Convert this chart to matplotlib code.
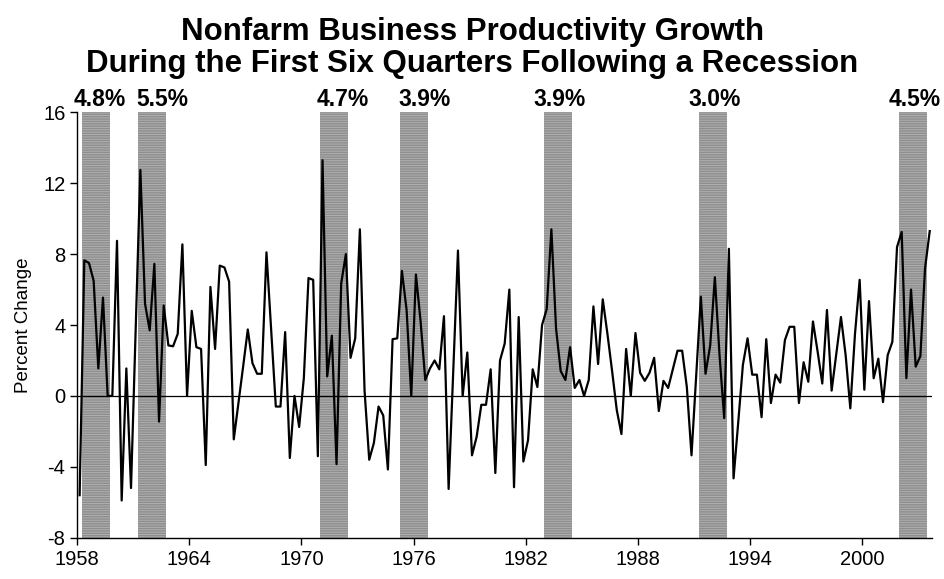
import matplotlib
matplotlib.use('Agg')
import matplotlib.pyplot as plt
import numpy as np

# quarterly nonfarm business productivity growth, 1958Q1 - 2003Q3 (annual rate, %)
growth = [
    -5.6, 7.65, 7.5, 6.5, 1.55, 5.55, 0.0, 0.0,          # 1958-59
    8.75, -5.9, 1.55, -5.2, 3.7, 12.75, 5.2, 3.7,        # 1960-61
    7.45, -1.45, 5.1, 2.85, 2.8, 3.5, 8.55, 0.0,         # 1962-63
    4.8, 2.75, 2.65, -3.9, 6.15, 2.65, 7.35, 7.25,       # 1964-65
    6.45, -2.45, -0.4, 1.65, 3.75, 1.85, 1.25, 1.25,     # 1966-67
    8.1, 3.75, -0.6, -0.6, 3.6, -3.5, 0.0, -1.75,        # 1968-69
    1.0, 6.65, 6.55, -3.4, 13.3, 1.1, 3.4, -3.85,        # 1970-71
    6.35, 8.0, 2.15, 3.25, 9.4, 0.3, -3.6, -2.65,        # 1972-73
    -0.6, -1.1, -4.15, 3.2, 3.25, 7.05, 4.85, 0.0,       # 1974-75
    6.85, 4.2, 0.9, 1.55, 2.0, 1.5, 4.5, -5.25,          # 1976-77
    1.5, 8.2, 0.0, 2.45, -3.35, -2.3, -0.5, -0.5,        # 1978-79
    1.5, -4.35, 2.0, 2.95, 6.0, -5.15, 4.45, -3.7,       # 1980-81
    -2.5, 1.5, 0.5, 4.0, 4.9, 9.4, 3.8, 1.4,             # 1982-83
    0.9, 2.75, 0.45, 0.9, 0.0, 0.9, 5.05, 1.8,           # 1984-85
    5.45, 3.5, 1.4, -0.8, -2.15, 2.65, 0.0, 3.55,        # 1986-87
    1.3, 0.85, 1.3, 2.15, -0.85, 0.85, 0.45, 1.5,        # 1988-89
    2.55, 2.55, 0.5, -3.35, 1.1, 5.6, 1.25, 2.85,        # 1990-91
    6.7, 2.3, -1.25, 8.3, -4.65, -1.5, 1.75, 3.25,       # 1992-93
    1.2, 1.2, -1.2, 3.2, -0.4, 1.2, 0.75, 3.15,          # 1994-95
    3.9, 3.9, -0.4, 1.9, 0.8, 4.2, 2.5, 0.7,             # 1996-97
    4.85, 0.3, 2.4, 4.45, 2.3, -0.7, 3.5, 6.55,          # 1998-99
    0.35, 5.35, 1.0, 2.1, -0.35, 2.3, 3.05, 8.4,         # 2000-01
    9.25, 1.0, 6.0, 1.65, 2.25, 7.2, 9.3,                # 2002-03
]

# first quarter of each six-quarter post-recession window
recovery_start = [1958.25, 1961.25, 1971.0, 1975.25, 1983.0, 1991.25, 2002.0]
recovery_avg = ['4.8%', '5.5%', '4.7%', '3.9%', '3.9%', '3.0%', '4.5%']

year_ticks = [1958, 1964, 1970, 1976, 1982, 1988, 1994, 2000]

plt.rcParams['font.family'] = ['Liberation Sans', 'DejaVu Sans']
plt.rcParams['axes.unicode_minus'] = False
plt.rcParams['hatch.linewidth'] = 0.7

fig = plt.figure(figsize=(9.45, 5.79), dpi=100)
ax = fig.add_axes([0.0818, 0.0713, 0.9045, 0.7347])

# x position at the middle of each quarter
x = 1958 + 0.25 * np.arange(len(growth)) + 0.125

ymin, ymax = -8, 16
# labels were placed by hand in the original, a little right of centre
nudges = [0.2, 0.57, 0.45, 0.57, 0.05, 0.1, 0.07]
for start, label, nudge in zip(recovery_start, recovery_avg, nudges):
    ax.bar(start, ymax - ymin, width=1.5, bottom=ymin, align='edge',
           color='#8e8e8e', edgecolor='#b0b0b0', hatch='-------', lw=0, zorder=1)
    ax.text(start + 0.75 + nudge, ymax + 0.05, label, ha='center', va='bottom',
            fontsize=16.5, fontweight='bold')

ax.axhline(0, color='black', lw=0.9, zorder=2)
ax.plot(x, growth, color='black', lw=1.6, zorder=3)

ax.set_xlim(1958, 1958 + 0.25 * len(growth))
ax.set_ylim(ymin, ymax)
ax.set_xticks(year_ticks)
ax.set_yticks(range(-8, 17, 4))
ax.tick_params(labelsize=14.5, length=5, direction='out', width=1)
ax.set_ylabel('Percent Change', fontsize=13.5, labelpad=8)

for side in ['top', 'right']:
    ax.spines[side].set_visible(False)
ax.spines['left'].set_linewidth(1)
ax.spines['bottom'].set_linewidth(1)

fig.text(0.5, 0.971, 'Nonfarm Business Productivity Growth\n'
         'During the First Six Quarters Following a Recession',
         ha='center', va='top', fontsize=22.5, fontweight='bold', linespacing=1.08)

fig.savefig('out.png', dpi=100)
